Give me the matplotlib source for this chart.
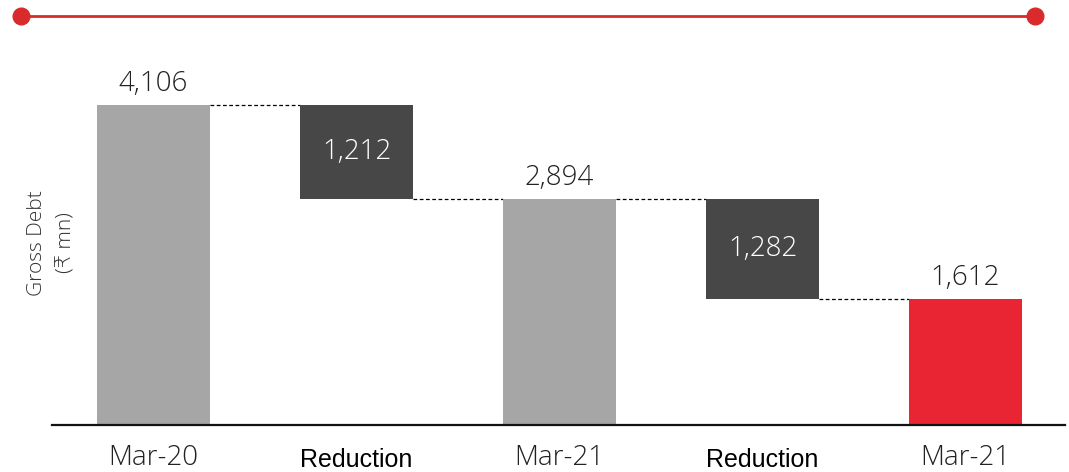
import matplotlib
matplotlib.use("Agg")
import matplotlib.pyplot as plt
from matplotlib.lines import Line2D

# ---- data ----
categories = ["Mar-20", "Reduction", "Mar-21", "Reduction", "Mar-21"]
kinds = ["total", "delta", "total", "delta", "total"]
values = [4106, -1212, 2894, -1282, 1612]
labels = ["4,106", "1,212", "2,894", "1,282", "1,612"]
y_label = "Gross Debt\n(\u20b9 mn)"

# ---- style ----
c_total = "#a6a6a6"
c_delta = "#474747"
c_final = "#ea2533"
c_accent = "#d92b2b"
num_font = ["Open Sans", "DejaVu Sans"]

fig = plt.figure(figsize=(10.69, 4.72), dpi=100)
ax = fig.add_axes([52 / 1069, 47 / 472, 1013 / 1069, 385 / 472])

width = 0.557
running = 0
bottoms, heights = [], []
for k, v in zip(kinds, values):
    if k == "total":
        bottoms.append(0)
        heights.append(v)
        running = v
    else:
        new = running + v
        bottoms.append(new)
        heights.append(-v)
        running = new

colors = []
for i, k in enumerate(kinds):
    if k == "delta":
        colors.append(c_delta)
    elif i == len(kinds) - 1:
        colors.append(c_final)
    else:
        colors.append(c_total)

xs = list(range(len(categories)))
ax.bar(xs, heights, bottom=bottoms, width=width, color=colors, zorder=2)

# connectors
for i in range(len(xs) - 1):
    if kinds[i] == "total":
        level = bottoms[i] + heights[i]
    else:
        level = bottoms[i]
    ax.plot([xs[i] + width / 2, xs[i + 1] - width / 2], [level, level],
            color="black", lw=0.9, ls=(0, (3, 2)), zorder=1)

# value labels
for i, k in enumerate(kinds):
    if k == "total":
        ax.text(xs[i], bottoms[i] + heights[i] + 90, labels[i], ha="center",
                va="bottom", fontsize=20, color="#222222", family=num_font,
                fontweight="light")
    else:
        ax.text(xs[i], bottoms[i] + heights[i] / 2, labels[i], ha="center",
                va="center", fontsize=20, color="white", family=num_font,
                fontweight="light")

ax.set_xlim(-0.5, 4.49)
ax.set_ylim(0, 4940)
ax.set_yticks([])
ax.set_xticks(xs)
ax.set_xticklabels([])
ax.tick_params(axis="x", length=0)
for s in ["top", "right", "left"]:
    ax.spines[s].set_visible(False)
ax.spines["bottom"].set_linewidth(1.6)
ax.spines["bottom"].set_color("#111111")

for i, cat in enumerate(categories):
    if cat == "Reduction":
        ax.text(xs[i], -0.09, cat, transform=ax.get_xaxis_transform(),
                ha="center", va="center", fontsize=18, color="black",
                family=["Liberation Sans", "DejaVu Sans"])
    else:
        ax.text(xs[i], -0.085, cat, transform=ax.get_xaxis_transform(),
                ha="center", va="center", fontsize=20, color="#222222",
                family=num_font, fontweight="light")

fig.text(52 / 1069, 1 - 243 / 472, y_label, rotation=90, ha="center",
         va="center", fontsize=15, color="#333333", family=num_font,
         fontweight="light", linespacing=1.65)

# top decorative line
fig.add_artist(Line2D([21 / 1069, 1035 / 1069], [1 - 16 / 472, 1 - 16 / 472],
                      transform=fig.transFigure, color=c_accent, lw=2))
fig.add_artist(Line2D([21 / 1069, 1035 / 1069], [1 - 16 / 472, 1 - 16 / 472],
                      transform=fig.transFigure, color=c_accent, lw=0,
                      marker="o", markersize=12))

fig.savefig("out.png", dpi=100, facecolor="white")
